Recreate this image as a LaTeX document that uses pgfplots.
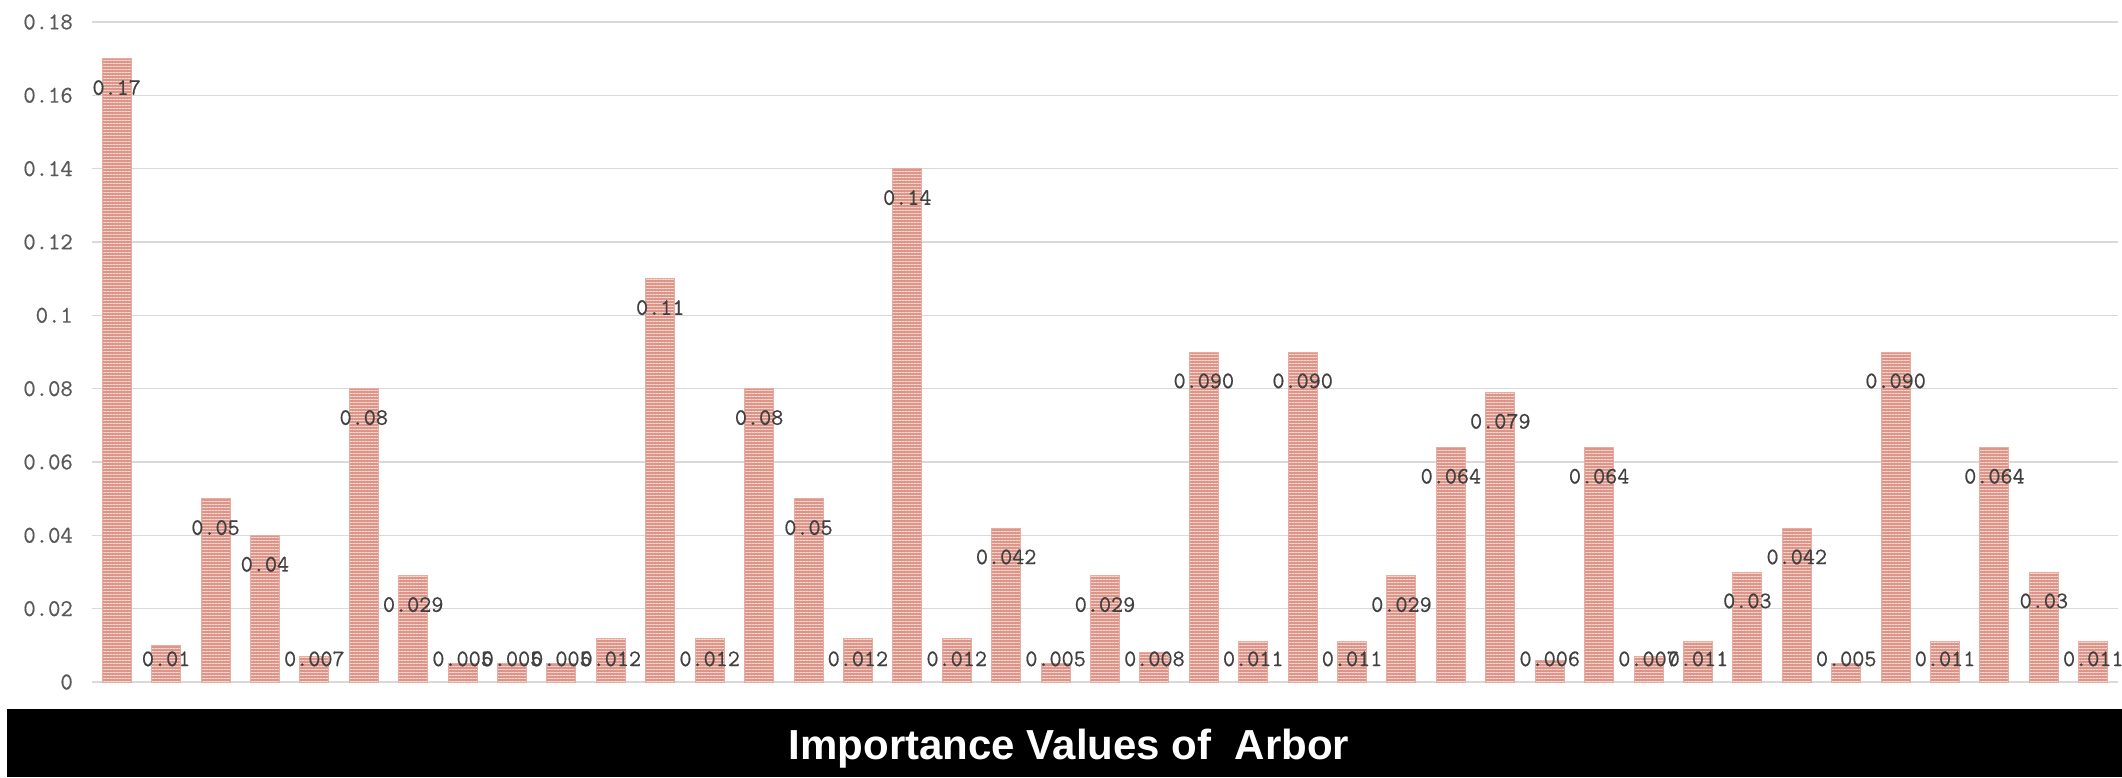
\documentclass[border=0pt]{standalone}
\usepackage{fontspec}
\setmainfont{Liberation Sans}
\newfontfamily\numfont{Latin Modern Mono}[FakeBold=0.6]
\usepackage{pgfplots}
\usepackage{pgfplotstable}
\pgfplotsset{compat=1.18}
\usetikzlibrary{patterns.meta}
\definecolor{barline}{HTML}{F6D8D0}
\definecolor{barbg}{HTML}{DC9588}
\definecolor{baredge}{HTML}{E6AEA3}
\definecolor{gridc}{HTML}{D9D9D9}
\definecolor{ticktxt}{HTML}{595959}
\definecolor{labtxt}{HTML}{404040}

\pgfplotstableread{
x y lab
0 0.17 0.17
1 0.01 0.01
2 0.05 0.05
3 0.04 0.04
4 0.007 0.007
5 0.08 0.08
6 0.029 0.029
7 0.005 0.005
8 0.005 0.005
9 0.005 0.005
10 0.012 0.012
11 0.11 0.11
12 0.012 0.012
13 0.08 0.08
14 0.05 0.05
15 0.012 0.012
16 0.14 0.14
17 0.012 0.012
18 0.042 0.042
19 0.005 0.005
20 0.029 0.029
21 0.008 0.008
22 0.090 0.090
23 0.011 0.011
24 0.090 0.090
25 0.011 0.011
26 0.029 0.029
27 0.064 0.064
28 0.079 0.079
29 0.006 0.006
30 0.064 0.064
31 0.007 0.007
32 0.011 0.011
33 0.03 0.03
34 0.042 0.042
35 0.005 0.005
36 0.090 0.090
37 0.011 0.011
38 0.064 0.064
39 0.03 0.03
40 0.011 0.011
}\data

\begin{document}
\begin{tikzpicture}
\useasboundingbox (-92pt,-95pt) rectangle (2030pt,682pt);
\begin{axis}[
  scale only axis,
  width=2026pt, height=660pt,
  xmin=-0.5, xmax=40.5,
  ymin=0, ymax=0.18,
  xtick=\empty,
  ytick={0,0.02,0.04,0.06,0.08,0.1,0.12,0.14,0.16,0.18},
  yticklabels={0,0.02,0.04,0.06,0.08,0.1,0.12,0.14,0.16,0.18},
  yticklabel style={font=\numfont\fontsize{24}{26}\selectfont, text=ticktxt, inner sep=0pt, xshift=-19pt},
  major tick length=0pt,
  axis line style={draw=none},
  ymajorgrids,
  grid style={gridc, line width=1.5pt},
  ybar, bar width=29pt,
  clip=false,
]
\addplot[
  draw=baredge, line width=1pt,
  fill=barbg,
  postaction={pattern={Lines[angle=0, distance=3pt, line width=0.9pt]}, pattern color=barline},
  nodes near coords,
  point meta=explicit symbolic,
  visualization depends on={3665*(max(\thisrow{y}-0.0079,0.0063)-\thisrow{y}) \as \dy},
  every node near coord/.append style={anchor=center, yshift=\dy pt, font=\numfont\fontsize{23.5}{26}\selectfont, text=labtxt, inner sep=0pt},
] table[x=x, y=y, meta=lab] {\data};
\end{axis}
\fill[black] (-85pt,-95pt) rectangle (2030pt,-27pt);
\node[anchor=base, text=white, font=\bfseries\fontsize{42}{46}\selectfont, inner sep=0pt] at (977pt,-77pt) {Importance Values of\ \ Arbor};
\end{tikzpicture}
\end{document}
